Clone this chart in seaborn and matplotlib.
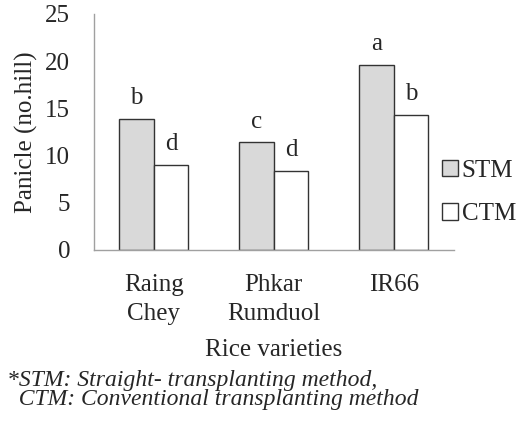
import matplotlib
matplotlib.use("Agg")
import matplotlib.pyplot as plt
import seaborn as sns
import pandas as pd
from matplotlib.patches import Patch

varieties = ["Raing\nChey", "Phkar\nRumduol", "IR66"]
stm = [13.9, 11.4, 19.6]
ctm = [9.0, 8.4, 14.3]
stm_letters = ["b", "c", "a"]
ctm_letters = ["d", "d", "b"]

df = pd.DataFrame({
    "variety": varieties * 2,
    "method": ["STM"] * 3 + ["CTM"] * 3,
    "panicle": stm + ctm,
})

sns.set_style("white")
plt.rcParams["font.family"] = ["Liberation Serif", "DejaVu Serif"]

fig = plt.figure(figsize=(5.24, 4.23), dpi=100)
ax = fig.add_axes([0.179, 0.409, 0.687, 0.558])

sns.barplot(data=df, x="variety", y="panicle", hue="method",
            palette={"STM": "#d9d9d9", "CTM": "#ffffff"},
            width=0.575, edgecolor="#333333", linewidth=1.0,
            legend=False, ax=ax)

# letters over the bars
letters = stm_letters + ctm_letters
for p, lab in zip(ax.patches[:6], letters):
    ax.text(p.get_x() + p.get_width() / 2, p.get_height() + 2.2, lab,
            ha="center", va="center", fontsize=18)

ax.set_ylim(0, 25)
ax.set_yticks(range(0, 26, 5))
ax.set_xlim(-0.5, 2.5)
ax.set_ylabel("Panicle (no.hill)", fontsize=18, labelpad=5)
ax.set_xlabel("Rice varieties", fontsize=18, labelpad=10)
ax.tick_params(axis="y", labelsize=18, length=6, color="#a0a0a0", pad=11)
ax.tick_params(axis="x", which="major", labelsize=18, length=0, pad=17)
for t in ax.get_xticklabels():
    t.set_linespacing(1.42)
ax.set_xticks([-0.5, 0.5, 1.5, 2.5], minor=True)
ax.tick_params(axis="x", which="minor", length=6, color="#a0a0a0")

sns.despine(ax=ax)
for s in ["left", "bottom"]:
    ax.spines[s].set_color("#a0a0a0")
    ax.spines[s].set_linewidth(1.0)

handles = [Patch(facecolor="#d9d9d9", edgecolor="#333333", label="STM"),
           Patch(facecolor="#ffffff", edgecolor="#333333", label="CTM")]
fig.legend(handles=handles, loc="center left", bbox_to_anchor=(0.843, 0.545),
           frameon=False, fontsize=18, handlelength=0.65, handleheight=0.65,
           handletextpad=0.15, labelspacing=0.85, borderpad=0, borderaxespad=0)

fig.text(0.013, 0.078, "*STM: Straight- transplanting method,\n  CTM: Conventional transplanting method",
         fontsize=17, style="italic", va="center", ha="left", linespacing=0.9)

fig.savefig("out.png", dpi=100)
